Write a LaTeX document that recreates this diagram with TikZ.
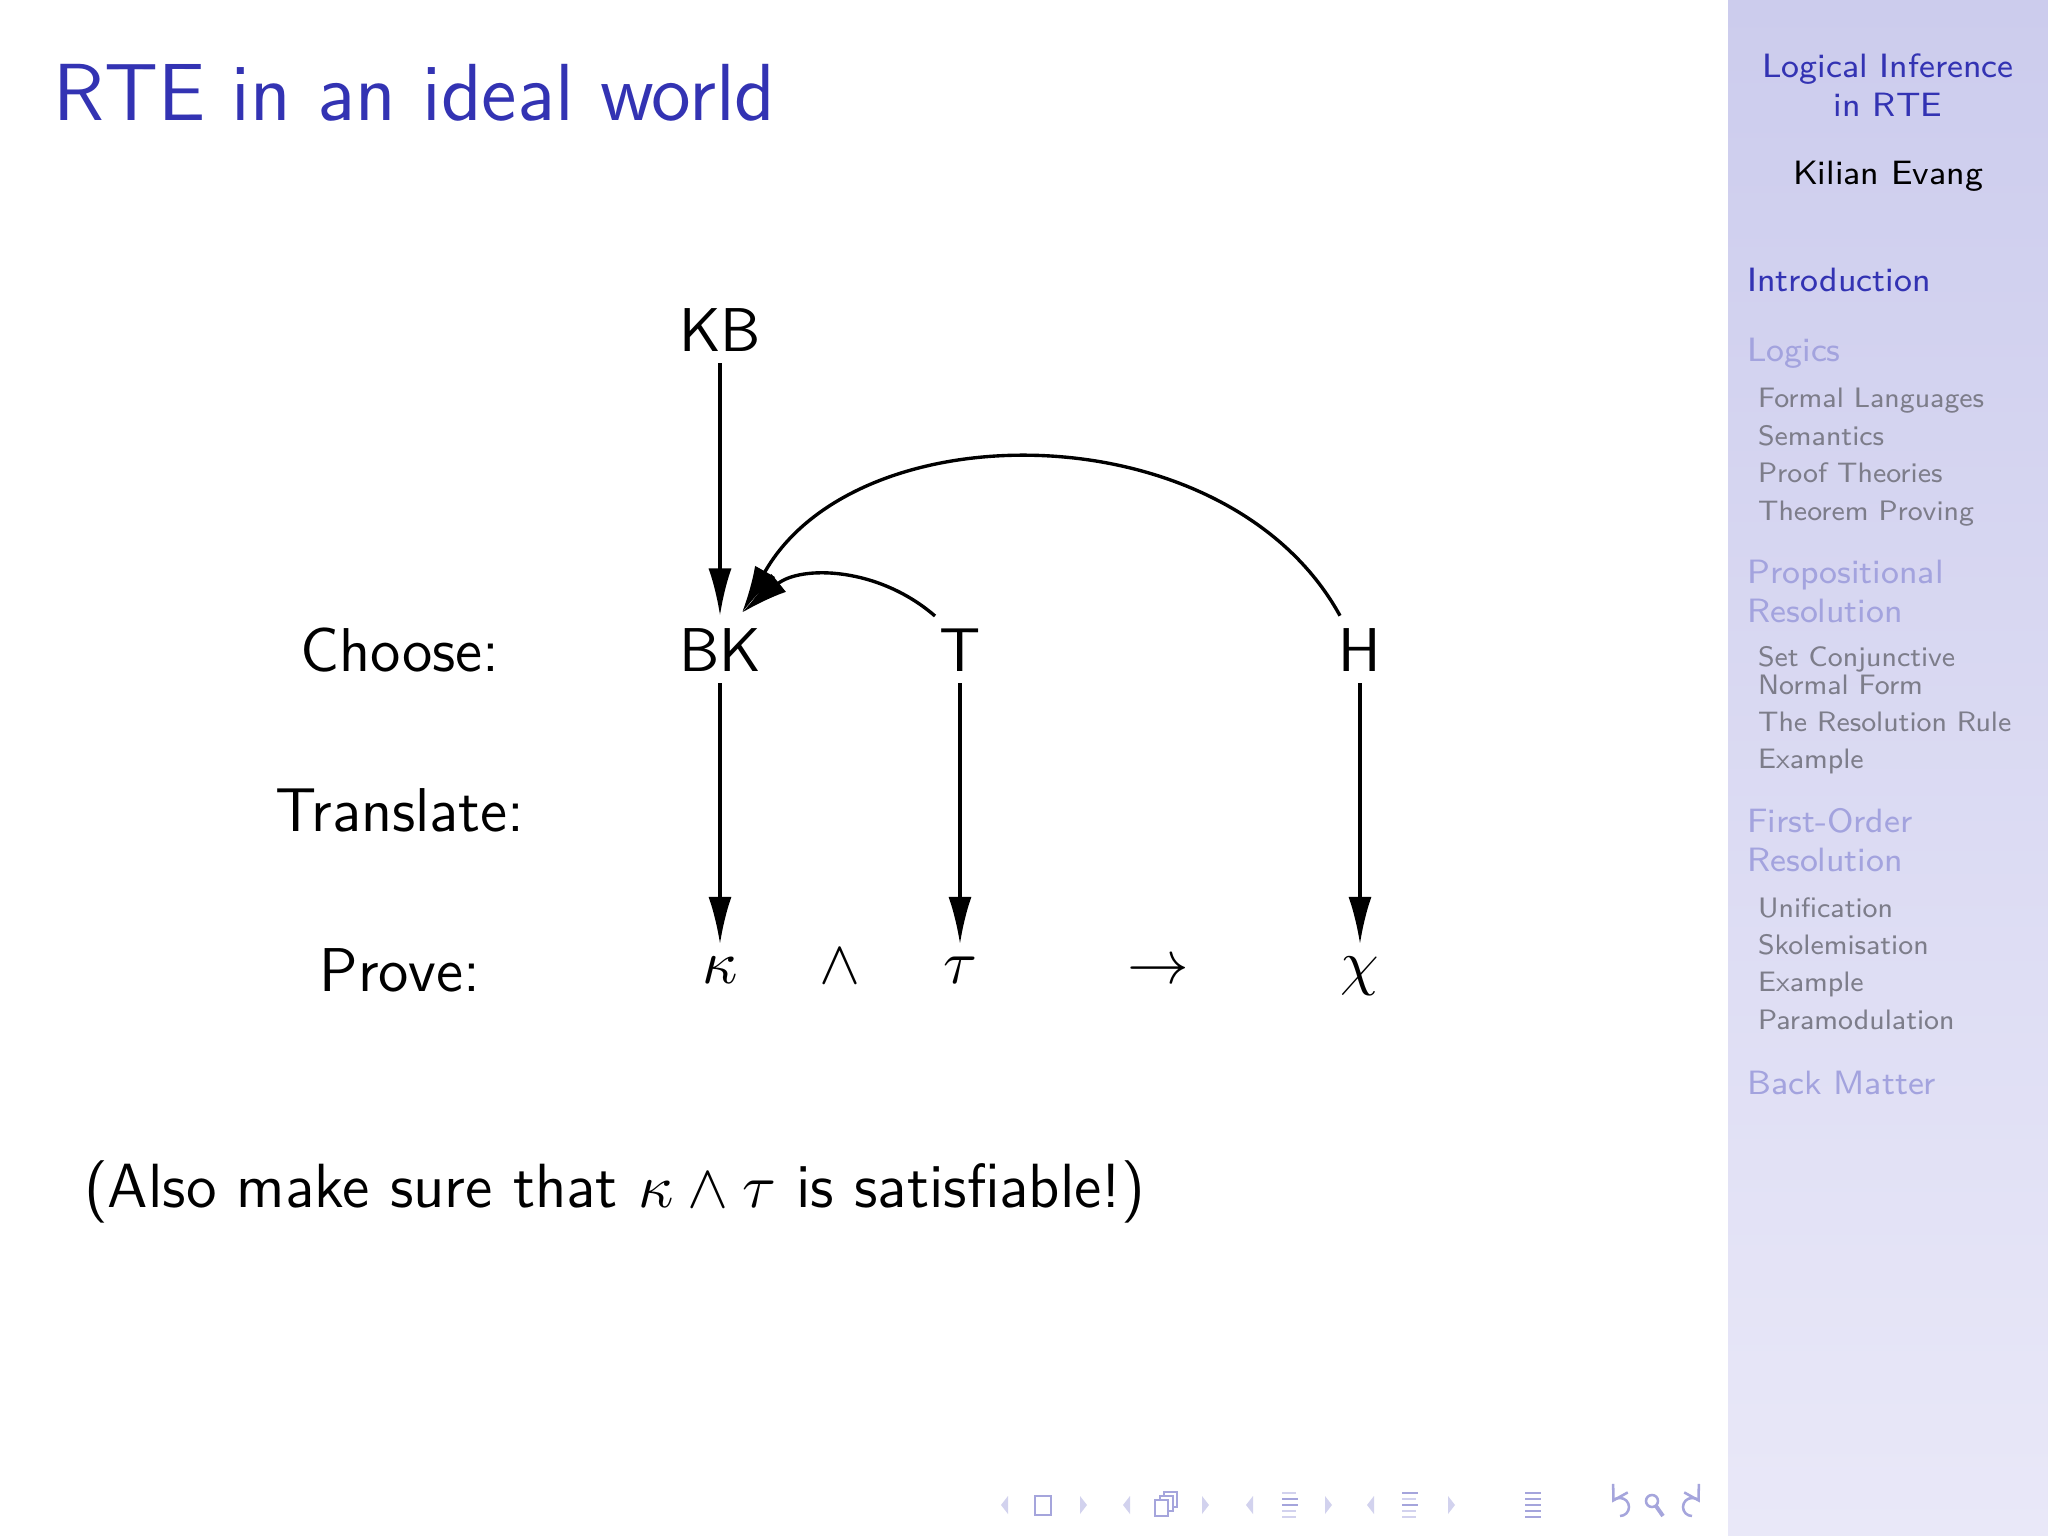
\documentclass[tikz,border=0pt]{standalone}
\usetikzlibrary{arrows.meta,calc}
\definecolor{beamerblue}{RGB}{51,51,179}
\definecolor{sectfade}{RGB}{163,163,222}
\definecolor{subgray}{RGB}{125,125,138}
\definecolor{sidetop}{RGB}{204,204,237}
\definecolor{sidebot}{RGB}{233,232,248}
\definecolor{navc}{RGB}{165,165,220}
\definecolor{navlight}{RGB}{210,210,238}
\newcommand\mybody{\fontsize{11}{13}\selectfont}
\newcommand\myremark{\fontsize{11.1}{13}\selectfont}
\newcommand\mytitle{\fontsize{14.4}{17}\selectfont}
\newcommand\mysect{\fontsize{6}{7}\selectfont}
\newcommand\mysub{\fontsize{5}{6}\selectfont}
\tikzset{
  lbl/.style={font=\sffamily\mybody, anchor=base, inner sep=2pt},
  mth/.style={font=\mybody, anchor=base, inner sep=2pt},
  conn/.style={-{Latex[length=8.4pt,width=4.1pt]}, line width=0.6pt},
  sidetitle/.style={font=\sffamily\mysect, anchor=base, inner sep=0pt, text=beamerblue},
  sectitem/.style={font=\sffamily\mysect, anchor=base west, inner sep=0pt, text=sectfade},
  subitem/.style={font=\sffamily\mysub, anchor=base west, inner sep=0pt, text=subgray},
  navl/.style={fill=navlight, draw=none},
  navi/.style={draw=navc, line width=0.45pt},
  navbar/.style={line width=0.45pt}
}
\begin{document}
\begin{tikzpicture}[x=0.0625mm,y=0.0625mm]
\useasboundingbox (0,0) rectangle (2048,-1536);
\fill[white] (0,0) rectangle (1728,-1536);
\shade[top color=sidetop, bottom color=sidebot] (1728,0) rectangle (2048,-1536);

% title
\node[font=\sffamily\mytitle, anchor=base west, inner sep=0pt, text=beamerblue] (title) at (52,-120) {RTE in an ideal world};

% sidebar
\node[sidetitle] (st1) at (1888,-77) {Logical Inference};
\node[sidetitle] (st2) at (1888,-117) {in RTE};
\node[sidetitle, text=black] (auth) at (1888,-185) {Kilian Evang};
\node[sectitem, text=beamerblue] (s1) at (1746,-291) {Introduction};
\node[sectitem] (s2) at (1746,-362) {Logics};
\node[subitem] (ss1) at (1757,-407) {Formal Languages};
\node[subitem] (ss2) at (1757,-445) {Semantics};
\node[subitem] (ss3) at (1757,-482) {Proof Theories};
\node[subitem] (ss4) at (1757,-520) {Theorem Proving};
\node[sectitem] (s3a) at (1746,-583) {Propositional};
\node[sectitem] (s3b) at (1746,-622) {Resolution};
\node[subitem] (ss5a) at (1757,-666) {Set Conjunctive};
\node[subitem] (ss5b) at (1757,-694) {Normal Form};
\node[subitem] (ss6) at (1757,-731) {The Resolution Rule};
\node[subitem] (ss7) at (1757,-768) {Example};
\node[sectitem] (s4a) at (1746,-832) {First-Order};
\node[sectitem] (s4b) at (1746,-871) {Resolution};
\node[subitem] (ss8) at (1757,-917) {Unification};
\node[subitem] (ss9) at (1757,-954) {Skolemisation};
\node[subitem] (ss10) at (1757,-991) {Example};
\node[subitem] (ss11) at (1757,-1029) {Paramodulation};
\node[sectitem] (s5) at (1746,-1094) {Back Matter};

% diagram
\node[lbl] (KB) at (720,-351) {KB};
\node[lbl] (BK) at (720,-671) {BK};
\node[lbl] (T) at (960,-671) {T};
\node[lbl] (H) at (1360,-671) {H};
\node[lbl] (choose) at (400,-671) {Choose:};
\node[lbl] (translate) at (400,-831) {Translate:};
\node[lbl] (prove) at (400,-991) {Prove:};
\node[mth] (kappa) at (720,-983) {$\kappa$};
\node[mth] (and) at (840,-983) {$\wedge$};
\node[mth] (tau) at (960,-983) {$\tau$};
\node[mth] (impl) at (1158,-983) {$\rightarrow$};
\node[mth] (chi) at (1360,-983) {$\chi$};
\coordinate (bktip) at ($(BK.north)+(22,3)$);

\draw[conn] (KB) -- (BK);
\draw[conn] (BK) -- (kappa);
\draw[conn] (T) -- (tau);
\draw[conn] (H) -- (chi);
\draw[conn] ($(T.north)+(-25,0)$) to[bend right=40] (bktip);
\draw[conn] ($(H.north)+(-20,0)$) to[bend right=61] (bktip);

% bottom remark
\node[font=\sffamily\myremark, anchor=base west, inner sep=0pt] (remark) at (83,-1207) {(Also make sure that $\kappa\wedge\tau$ is satisfiable!)};

% navigation symbols
\fill[navl] (1008,-1496) -- (1001,-1505) -- (1008,-1514) -- cycle;
\draw[navi] (1035,-1496) rectangle (1051,-1515);
\fill[navl] (1080,-1496) -- (1087,-1505) -- (1080,-1514) -- cycle;
\fill[navl] (1130,-1496) -- (1123,-1505) -- (1130,-1514) -- cycle;
\draw[navi, fill=white] (1164,-1492) rectangle (1177,-1507);
\draw[navi, fill=white] (1160,-1496) rectangle (1173,-1511);
\draw[navi, fill=white] (1155,-1500) rectangle (1168,-1516);
\fill[navl] (1202,-1496) -- (1209,-1505) -- (1202,-1514) -- cycle;
\fill[navl] (1253,-1496) -- (1246,-1505) -- (1253,-1514) -- cycle;
\foreach \yy/\cc/\ww in {-1493/navlight/14,-1499/navc/16,-1505/navc/16,-1511/navlight/14,-1517/navlight/14}
  \draw[\cc, navbar] (1282,\yy) -- ++(\ww,0);
\fill[navl] (1325,-1496) -- (1332,-1505) -- (1325,-1514) -- cycle;
\fill[navl] (1374,-1496) -- (1367,-1505) -- (1374,-1514) -- cycle;
\foreach \yy/\cc/\ww in {-1493/navc/16,-1499/navlight/14,-1505/navc/16,-1511/navlight/14,-1517/navlight/14}
  \draw[\cc, navbar] (1402,\yy) -- ++(\ww,0);
\fill[navl] (1448,-1496) -- (1455,-1505) -- (1448,-1514) -- cycle;
\foreach \yy in {-1493,-1499,-1505,-1511,-1517}
  \draw[navc, navbar] (1525,\yy) -- ++(16,0);
\draw[navi, -{Straight Barb[length=2.5pt,width=3pt]}] (1620,-1516) arc[start angle=-90, end angle=150, radius=9];
\draw[navi] (1652,-1501) circle[radius=6];
\draw[navi, line width=0.7pt] (1656,-1506) -- (1663,-1516);
\draw[navi, -{Straight Barb[length=2.5pt,width=3pt]}] (1692,-1516) arc[start angle=-90, end angle=-330, radius=9];
\end{tikzpicture}
\end{document}
